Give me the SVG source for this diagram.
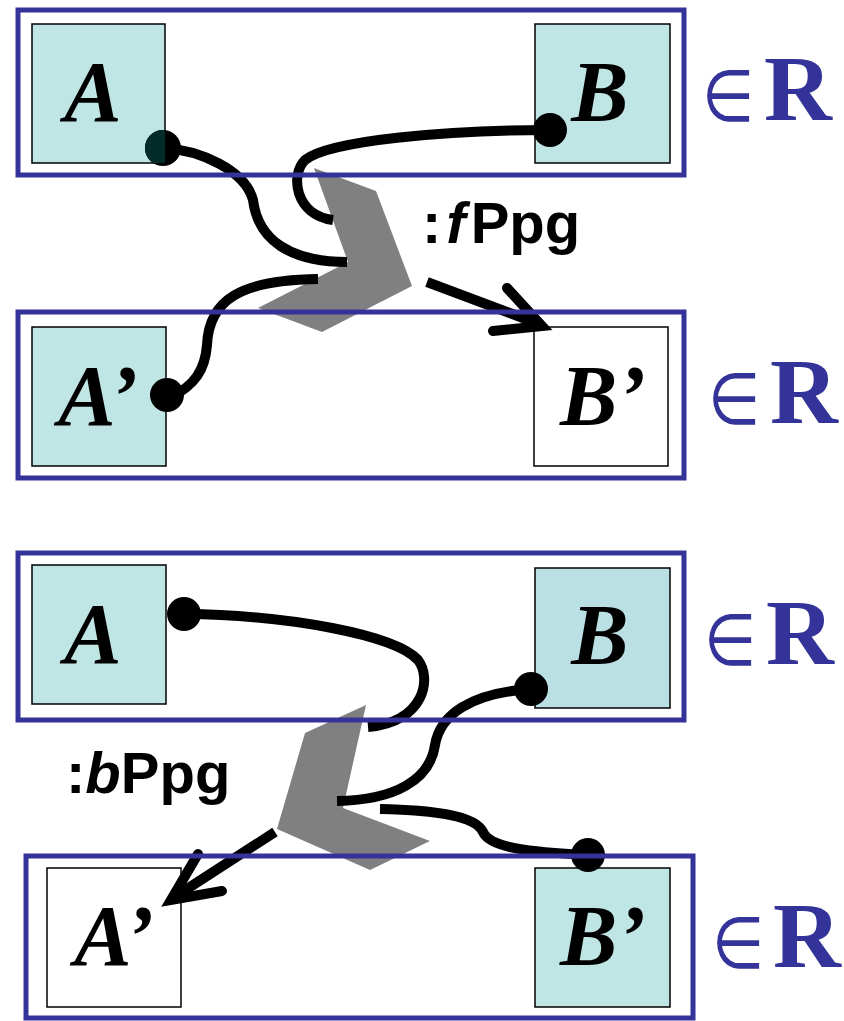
<svg xmlns="http://www.w3.org/2000/svg" width="844" height="1021" viewBox="0 0 844 1021">
  <defs>
    <style>
      .box { stroke: #000; stroke-width: 1.5; }
      .cyan { fill: #bfe6e4; }
      .cyan2 { fill: #bbe0e3; }
      .white { fill: #fff; }
      .lbl { font-family: "Liberation Serif", "Times New Roman", serif; font-weight: bold; font-style: italic; font-size: 86px; fill: #000; text-anchor: middle; }
      .frame { fill: none; stroke: #333399; stroke-width: 5; }
      .elem { font-family: "DejaVu Sans", sans-serif; font-weight: 200; font-size: 60px; fill: #333399; }
      .rel { font-family: "Liberation Serif", "Times New Roman", serif; font-weight: bold; font-size: 94px; fill: #333399; }
      .op { font-family: "Liberation Sans", Arial, sans-serif; font-weight: bold; font-size: 58px; fill: #000; }
      .chev { fill: #808080; }
      .wire { fill: none; stroke: #000; stroke-width: 10; stroke-linecap: butt; }
      .head { fill: none; stroke: #000; stroke-width: 10; stroke-linecap: round; stroke-linejoin: miter; stroke-miterlimit: 10; }
      .dot { fill: #000; }
    </style>
    <clipPath id="clipA1">
      <rect x="32" y="24" width="133" height="139"/>
    </clipPath>
  </defs>

  <rect width="844" height="1021" fill="#fff"/>

  <!-- forward propagation: boxes -->
  <g id="f-A">
    <rect class="box cyan" x="32" y="24" width="133" height="139"/>
    <text class="lbl" x="93" y="121">A</text>
  </g>
  <g id="f-B">
    <rect class="box cyan" x="535" y="24" width="135" height="139"/>
    <text class="lbl" x="600" y="121">B</text>
  </g>
  <g id="f-A2">
    <rect class="box cyan" x="32" y="327" width="134" height="139"/>
    <text class="lbl" x="98" y="425">A’</text>
  </g>
  <g id="f-B2">
    <rect class="box white" x="534" y="327" width="134" height="139"/>
    <text class="lbl" x="603" y="425">B’</text>
  </g>

  <!-- backward propagation: boxes -->
  <g id="b-A">
    <rect class="box cyan" x="32" y="565" width="134" height="139"/>
    <text class="lbl" x="93" y="663">A</text>
  </g>
  <g id="b-B">
    <rect class="box cyan2" x="535" y="568" width="135" height="140"/>
    <text class="lbl" x="600" y="664">B</text>
  </g>
  <g id="b-A2">
    <rect class="box white" x="47" y="868" width="134" height="139"/>
    <text class="lbl" x="114" y="965">A’</text>
  </g>
  <g id="b-B2">
    <rect class="box cyan" x="535" y="868" width="135" height="139"/>
    <text class="lbl" x="603" y="965">B’</text>
  </g>

  <!-- propagation operators -->
  <g id="op-f">
    <polygon class="chev" points="314,168 376,191 412,286 322,332 258,308 348,262"/>
    <text class="op" x="422" y="243">:<tspan font-style="italic" dx="5">f</tspan><tspan dx="5">Ppg</tspan></text>
  </g>
  <g id="op-b">
    <polygon class="chev" points="366,705 305,733 277,829 370,870 430,841 343,808"/>
    <text class="op" x="66" y="793">:<tspan font-style="italic">b</tspan>Ppg</text>
  </g>

  <!-- connectors -->
  <g id="connectors">
    <!-- forward -->
    <path class="wire" d="M163,148 C200,150 245,170 253,200 C258,240 290,262 347,262"/>
    <path class="wire" d="M550,130 C450,130 330,140 305,160 C290,175 295,215 333,220"/>
    <path class="wire" d="M170,398 C195,385 205,370 207,345 C209,300 240,280 318,279"/>
    <path class="wire" d="M427,282 L539,324"/>
    <polyline class="head" points="507,288 542,326 493,331"/>
    <circle class="dot" cx="163" cy="148" r="18"/>
    <circle cx="163" cy="148" r="18" fill="#022b29" clip-path="url(#clipA1)"/>
    <circle class="dot" cx="550" cy="130" r="17"/>
    <circle class="dot" cx="167" cy="395" r="17"/>

    <!-- backward -->
    <path class="wire" d="M184,614 C290,615 395,635 418,660 C432,678 425,722 368,727"/>
    <path class="wire" d="M531,689 C470,693 440,715 435,745 C430,780 395,800 337,801"/>
    <path class="wire" d="M588,855 C530,852 490,848 483,832 C475,815 430,810 380,809"/>
    <path class="wire" d="M275,832 L173,898"/>
    <polyline class="head" points="198,854 171,900 222,891"/>
    <circle class="dot" cx="184" cy="614" r="17"/>
    <circle class="dot" cx="531" cy="689" r="17"/>
    <circle class="dot" cx="588" cy="855" r="17"/>
  </g>

  <!-- relation frames -->
  <g id="rel-1">
    <rect class="frame" x="18" y="10" width="666" height="165"/>
    <text class="elem" transform="translate(702,121) scale(1,1.2)">∈</text>
    <text class="rel" x="764" y="120">R</text>
  </g>
  <g id="rel-2">
    <rect class="frame" x="18" y="312" width="666" height="166"/>
    <text class="elem" transform="translate(708,424) scale(1,1.2)">∈</text>
    <text class="rel" x="770" y="423">R</text>
  </g>
  <g id="rel-3">
    <rect class="frame" x="18" y="553" width="666" height="167"/>
    <text class="elem" transform="translate(704,665) scale(1,1.2)">∈</text>
    <text class="rel" x="766" y="664">R</text>
  </g>
  <g id="rel-4">
    <rect class="frame" x="26" y="856" width="667" height="162"/>
    <text class="elem" transform="translate(712,968) scale(1,1.2)">∈</text>
    <text class="rel" x="773" y="967">R</text>
  </g>
</svg>
